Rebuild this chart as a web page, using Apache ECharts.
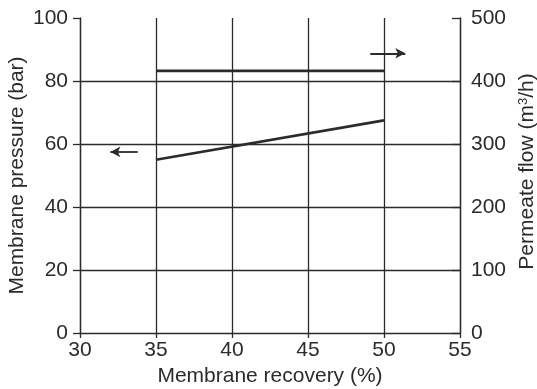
<!DOCTYPE html>
<html><head><meta charset="utf-8">
<script src="https://cdn.jsdelivr.net/npm/echarts@6/dist/echarts.min.js"></script>
<style>html,body{margin:0;padding:0;background:#fff}#c{width:537px;height:389px}</style>
</head><body><div id="c"></div>
<script>
const recovery = [35, 50];
const pressure = [55, 67.5];
const flow = [416, 416];
const xTicks = [30, 35, 40, 45, 50, 55];
const gridY = [20, 40, 60, 80];
const leftArrow = [[33.8, 57.5], [32.0, 57.5]];
const rightArrow = [[49.1, 444], [51.4, 444]];

const ink = '#2b2b2b';
const font = 'Liberation Sans, Arial, Helvetica, sans-serif';
const fs = 21;
const chart = echarts.init(document.getElementById('c'));
chart.setOption({
  animation: false,
  grid: {left: 80, right: 77, top: 18, bottom: 56, containLabel: false, outerBoundsMode: 'none'},
  xAxis: {
    type: 'value', min: 30, max: 55, interval: 5,
    name: 'Membrane recovery (%)', nameLocation: 'middle', nameGap: 32,
    nameTextStyle: {fontFamily: font, fontSize: fs, color: ink},
    axisLine: {show: true, onZero: false, lineStyle: {color: ink, width: 1.3}},
    axisTick: {show: true, inside: false, length: 5, lineStyle: {color: ink, width: 1.3}},
    axisLabel: {fontFamily: font, fontSize: fs, color: ink, margin: 7},
    splitLine: {show: true, lineStyle: {color: ink, width: 1.3}}
  },
  yAxis: [{
    type: 'value', min: 0, max: 100, interval: 20, position: 'left',
    name: 'Membrane pressure (bar)', nameLocation: 'middle', nameGap: 52, nameRotate: 90,
    nameMoveOverlap: false,
    nameTextStyle: {fontFamily: font, fontSize: fs, color: ink},
    axisLine: {show: true, lineStyle: {color: ink, width: 1.3}},
    axisTick: {show: true, inside: false, length: 7, lineStyle: {color: ink, width: 1.3}},
    axisLabel: {fontFamily: font, fontSize: fs, color: ink, margin: 12},
    splitLine: {show: false}
  }, {
    type: 'value', min: 0, max: 500, interval: 100, position: 'right',
    name: 'Permeate flow (m{sup|3}/h)', nameLocation: 'middle', nameGap: 56, nameRotate: 90,
    nameTextStyle: {fontFamily: font, fontSize: fs, color: ink, padding: [0, 0, 0, 8],
      rich: {sup: {fontFamily: font, fontSize: 13, color: ink, verticalAlign: 'bottom', padding: [0, 0, 8, 0]}}},
    axisLine: {show: true, lineStyle: {color: ink, width: 1.3}},
    axisTick: {show: true, inside: true, length: 8, lineStyle: {color: ink, width: 1.3}},
    axisLabel: {fontFamily: font, fontSize: fs, color: ink, margin: 11},
    splitLine: {show: false}
  }],
  series: [{
    type: 'line', yAxisIndex: 0, symbol: 'none',
    data: recovery.map((x, i) => [x, pressure[i]]),
    lineStyle: {color: ink, width: 2.6},
    markLine: {
      silent: true, symbol: ['none', 'none'], label: {show: false},
      lineStyle: {color: ink, width: 1.3, type: 'solid'},
      data: gridY.map(v => ({yAxis: v}))
    }
  }, {
    type: 'line', yAxisIndex: 1, symbol: 'none',
    data: recovery.map((x, i) => [x, flow[i]]),
    lineStyle: {color: ink, width: 2.6}
  }, {
    type: 'line', yAxisIndex: 0, symbol: 'none', data: [],
    markLine: {
      silent: true, symbol: ['none', 'arrow'], symbolSize: [8, 10], label: {show: false},
      lineStyle: {color: ink, width: 1.8, type: 'solid'},
      data: [[{coord: leftArrow[0]}, {coord: leftArrow[1]}]]
    }
  }, {
    type: 'line', yAxisIndex: 1, symbol: 'none', data: [],
    markLine: {
      silent: true, symbol: ['none', 'arrow'], symbolSize: [8, 10], label: {show: false},
      lineStyle: {color: ink, width: 1.8, type: 'solid'},
      data: [[{coord: rightArrow[0]}, {coord: rightArrow[1]}]]
    }
  }]
});
</script></body></html>
